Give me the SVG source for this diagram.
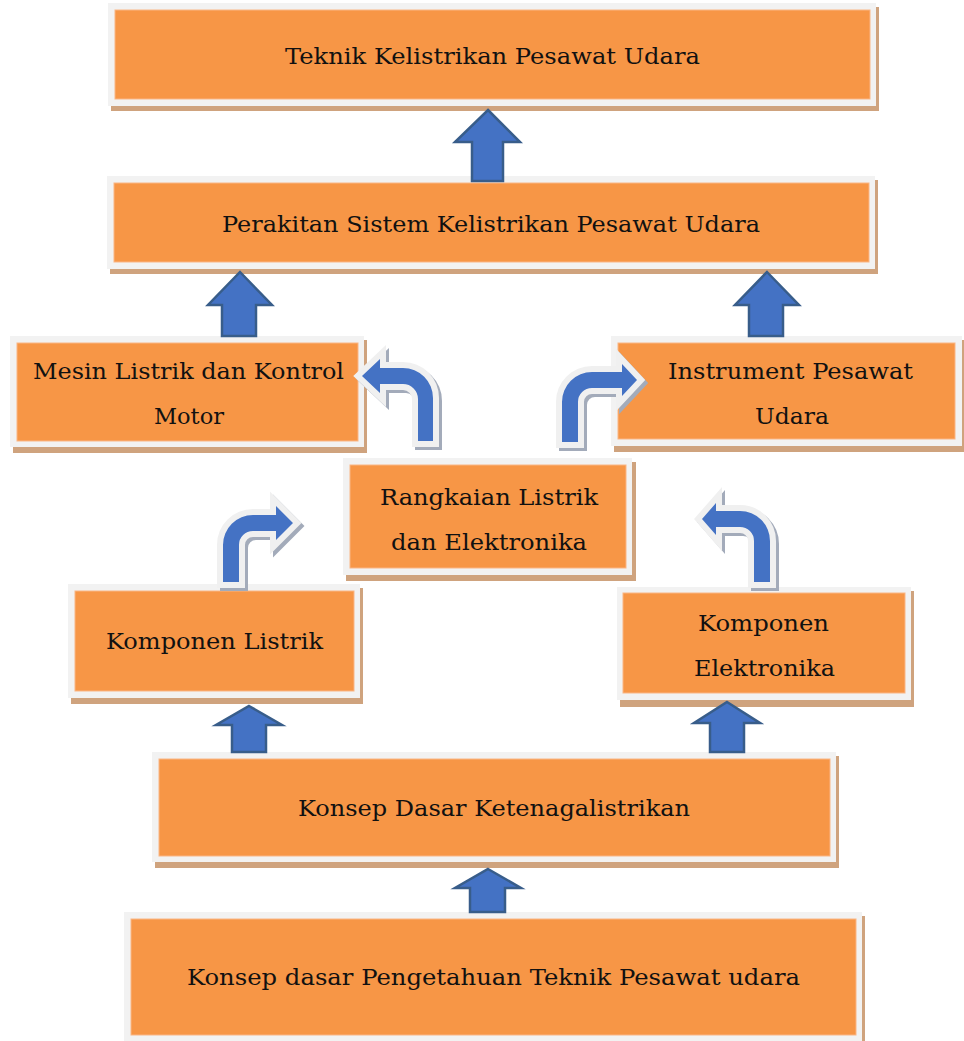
<svg xmlns="http://www.w3.org/2000/svg" width="964" height="1041" viewBox="0 0 964 1041">
<defs>
<style>
.sh{fill:#CFA37E}
.fr{fill:#F2F2F2}
.or{fill:#F79646;stroke:#FAB584;stroke-width:1}
.t{font-family:"DejaVu Serif","Liberation Serif",serif;font-size:23px;fill:#111;text-anchor:middle}
.ua{fill:#4472C4;stroke:#385D8A;stroke-width:2.5;stroke-linejoin:miter}
.bs{fill:#A3ABBA;stroke:#A3ABBA;stroke-width:12;stroke-linejoin:miter;paint-order:stroke}
.bf{fill:#4472C4;stroke:#F0F0F0;stroke-width:12;stroke-linejoin:miter;paint-order:stroke}
</style>
</defs>
<rect width="964" height="1041" fill="#FFFFFF"/>

<g id="n1">
<rect class="sh" x="111" y="7" width="768" height="104"/>
<rect class="fr" x="108" y="3" width="768" height="103"/>
<rect class="or" x="115" y="10" width="755" height="89"/>
<text class="t" x="492.5" y="64" textLength="415" lengthAdjust="spacingAndGlyphs">Teknik Kelistrikan Pesawat Udara</text>
</g>

<g id="n2">
<rect class="sh" x="110" y="180" width="768" height="94"/>
<rect class="fr" x="107" y="176" width="768" height="93"/>
<rect class="or" x="114" y="183" width="755" height="79"/>
<text class="t" x="491" y="232" textLength="538" lengthAdjust="spacingAndGlyphs">Perakitan Sistem Kelistrikan Pesawat Udara</text>
</g>

<g id="n3">
<rect class="sh" x="13" y="340" width="354" height="113"/>
<rect class="fr" x="10" y="336" width="354" height="111"/>
<rect class="or" x="17" y="343" width="341" height="98"/>
<text class="t" x="188.5" y="379" textLength="311" lengthAdjust="spacingAndGlyphs">Mesin Listrik dan Kontrol</text>
<text class="t" x="189" y="424" textLength="70" lengthAdjust="spacingAndGlyphs">Motor</text>
</g>

<g id="n4">
<rect class="sh" x="614" y="340" width="350" height="112"/>
<rect class="fr" x="611" y="336" width="351" height="110"/>
<rect class="or" x="618" y="343" width="337" height="96"/>
<text class="t" x="790.5" y="379" textLength="245" lengthAdjust="spacingAndGlyphs">Instrument Pesawat</text>
<text class="t" x="792" y="424" textLength="74" lengthAdjust="spacingAndGlyphs">Udara</text>
</g>

<g id="n5">
<rect class="sh" x="346" y="462" width="290" height="119"/>
<rect class="fr" x="343" y="458" width="289" height="117"/>
<rect class="or" x="350" y="465" width="276" height="103"/>
<text class="t" x="489" y="505" textLength="218" lengthAdjust="spacingAndGlyphs">Rangkaian Listrik</text>
<text class="t" x="489" y="550" textLength="196" lengthAdjust="spacingAndGlyphs">dan Elektronika</text>
</g>

<g id="n6">
<rect class="sh" x="71" y="588" width="292" height="116"/>
<rect class="fr" x="68" y="584" width="292" height="114"/>
<rect class="or" x="75" y="591" width="279" height="100"/>
<text class="t" x="214.5" y="649" textLength="217" lengthAdjust="spacingAndGlyphs">Komponen Listrik</text>
</g>

<g id="n7">
<rect class="sh" x="620" y="591" width="294" height="116"/>
<rect class="fr" x="617" y="587" width="294" height="113"/>
<rect class="or" x="623" y="593" width="282" height="100"/>
<text class="t" x="763.5" y="631" textLength="131" lengthAdjust="spacingAndGlyphs">Komponen</text>
<text class="t" x="764.5" y="676" textLength="141" lengthAdjust="spacingAndGlyphs">Elektronika</text>
</g>

<g id="n8">
<rect class="sh" x="155" y="756" width="684" height="112"/>
<rect class="fr" x="152" y="752" width="684" height="110"/>
<rect class="or" x="159" y="759" width="671" height="97"/>
<text class="t" x="494" y="816" textLength="392" lengthAdjust="spacingAndGlyphs">Konsep Dasar Ketenagalistrikan</text>
</g>

<g id="n9">
<rect class="sh" x="127" y="916" width="738" height="130"/>
<rect class="fr" x="124" y="912" width="738" height="129"/>
<rect class="or" x="131" y="919" width="725" height="116"/>
<text class="t" x="493.5" y="985" textLength="613" lengthAdjust="spacingAndGlyphs">Konsep dasar Pengetahuan Teknik Pesawat udara</text>
</g>

<g id="connectors">
<path class="ua" d="M488 110 L520 142 L503 142 L503 181 L472 181 L472 142 L455 142 Z"/>
<path class="ua" d="M240 272 L272 305 L256 305 L256 336 L222 336 L222 305 L208 305 Z"/>
<path class="ua" d="M767 272 L799 305 L783 305 L783 336 L749 336 L749 305 L735 305 Z"/>
<path class="ua" d="M249 706 L282 725 L266 725 L266 752 L232 752 L232 725 L216 725 Z"/>
<path class="ua" d="M727 702 L760 723 L744 723 L744 752 L710 752 L710 723 L694 723 Z"/>
<path class="ua" d="M488 869 L521 888 L505 888 L505 912 L470 912 L470 888 L455 888 Z"/>

<g id="bend-mesin">
<path class="bs" transform="translate(3,3)" d="M433 441 L433 398 A30 30 0 0 0 403 368 L380 368 L380 359 L362 376 L380 393 L380 384 L403 384 A15 15 0 0 1 418 399 L418 441 Z"/>
<path class="bf" d="M433 441 L433 398 A30 30 0 0 0 403 368 L380 368 L380 359 L362 376 L380 393 L380 384 L403 384 A15 15 0 0 1 418 399 L418 441 Z"/>
</g>
<g id="bend-instr">
<path class="bs" transform="translate(3,3)" d="M562 442 L562 402 A30 30 0 0 1 592 372 L622 372 L622 364 L637 380 L622 396 L622 388 L592 388 A14 14 0 0 0 578 402 L578 442 Z"/>
<path class="bf" d="M562 442 L562 402 A30 30 0 0 1 592 372 L622 372 L622 364 L637 380 L622 396 L622 388 L592 388 A14 14 0 0 0 578 402 L578 442 Z"/>
</g>
<g id="bend-listrik">
<path class="bs" transform="translate(3,3)" d="M223 582 L223 545 A30 30 0 0 1 253 515 L276 515 L276 506 L293 523 L276 540 L276 531 L253 531 A14 14 0 0 0 239 545 L239 582 Z"/>
<path class="bf" d="M223 582 L223 545 A30 30 0 0 1 253 515 L276 515 L276 506 L293 523 L276 540 L276 531 L253 531 A14 14 0 0 0 239 545 L239 582 Z"/>
</g>
<g id="bend-elek">
<path class="bs" transform="translate(3,3)" d="M770 582 L770 541 A30 30 0 0 0 740 511 L716 511 L716 503 L702 519 L716 535 L716 527 L740 527 A14 14 0 0 1 754 541 L754 582 Z"/>
<path class="bf" d="M770 582 L770 541 A30 30 0 0 0 740 511 L716 511 L716 503 L702 519 L716 535 L716 527 L740 527 A14 14 0 0 1 754 541 L754 582 Z"/>
</g>
</g>
</svg>
